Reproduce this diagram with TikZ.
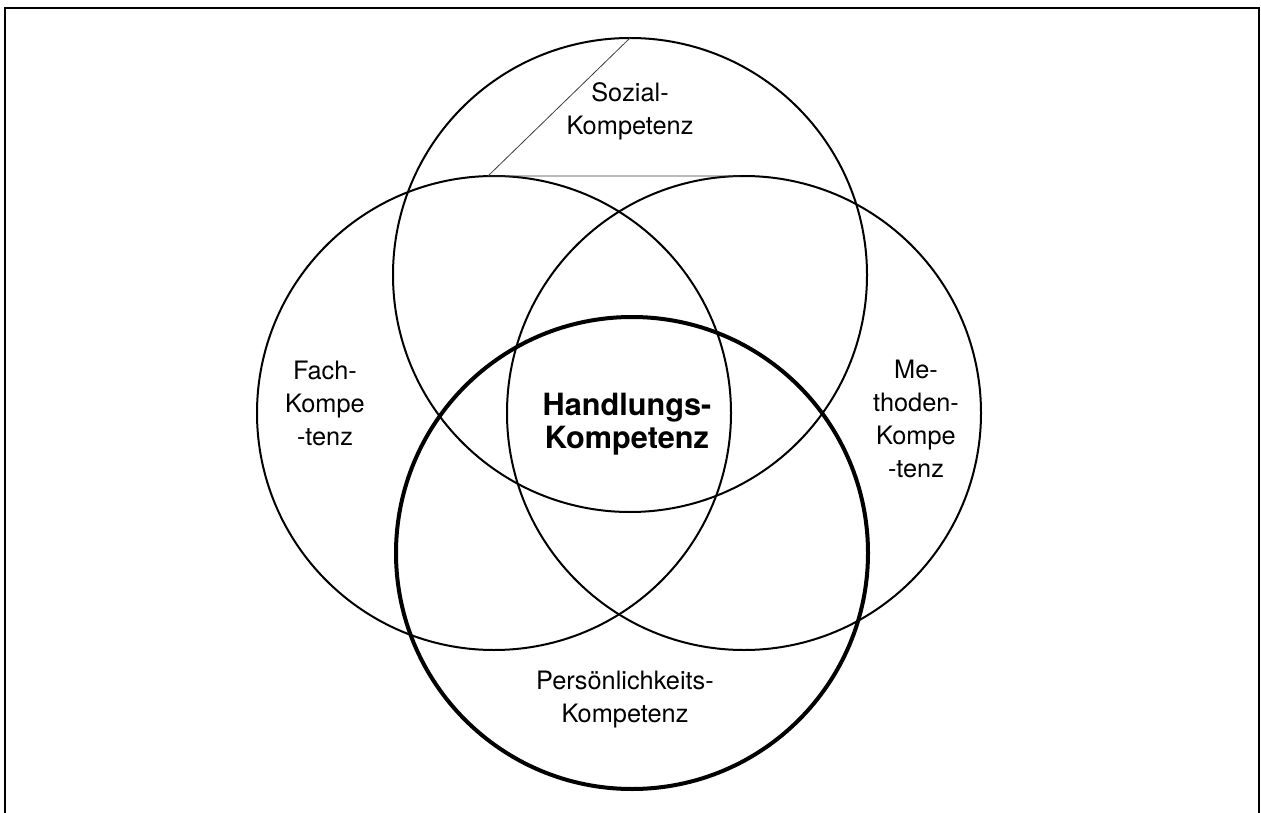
\documentclass[tikz,border=0pt]{standalone}
\usepackage{fontspec}
\setmainfont{TeX Gyre Heros}
\tikzset{every picture/.style={line width=0.75pt}}
\tikzset{
	label text/.style={align=center, font=\fontsize{19}{24.75}\selectfont},
	ring/.style={draw=black, line width=1.5}}

\begin{document}
\begin{tikzpicture}[x=0.75pt,y=0.75pt,yscale=-1,xscale=1]
	\useasboundingbox (0,0) rectangle (1261,813);
	%Frame (open at the bottom)
	\draw [line width=1.5] (5,820) -- (5,8) -- (1259,8) -- (1259,820) ;

	%Circles
	\draw [ring] (630,275) circle (237) ;
	\draw [ring] (494,413) circle (237) ;
	\draw [ring] (744,413) circle (237) ;
	\draw [ring, line width=3] (632,553) circle (236) ;

	%Straight Lines
	\coordinate (soztop) at (630,38);
	\coordinate (fachtop) at (488,176);
	\coordinate (methtop) at (740,176);
	\draw [line width=0.6, draw={rgb, 255:red, 60; green, 60; blue, 60}] (soztop) -- (fachtop) -- (methtop) ;

	% Text Node
	\node [label text] (sozial) at (630,111) {Sozial-\\Kompetenz};
	% Text Node
	\node [label text] (fach) at (325,403) {Fach-\\Kompe\\-tenz};
	% Text Node
	\node [label text] (methoden) at (916,419) {Me-\\thoden-\\Kompe\\-tenz};
	% Text Node
	\node [label text, font=\fontsize{23}{24.5}\selectfont\bfseries] (handlung) at (627,424) {Handlungs-\\Kompetenz};
	% Text Node
	\node [label text] (person) at (625,700) {Persönlichkeits-\\Kompetenz};

\end{tikzpicture}
\end{document}
